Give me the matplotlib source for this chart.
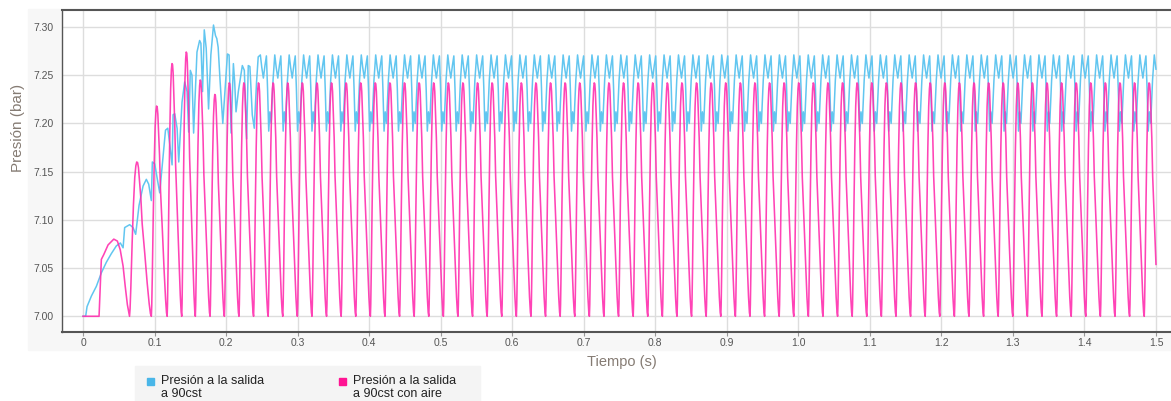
import numpy as np
import matplotlib.pyplot as plt
from matplotlib.patches import Rectangle

plt.rcParams['font.family'] = ['Liberation Sans', 'DejaVu Sans']

# ---- data (time in s, pressure in bar) ----
# "Presión a la salida a 90cst con aire" (pink)
air_start_t = [0.0, 0.0224, 0.0245, 0.0256, 0.029, 0.035, 0.043, 0.048, 0.052, 0.056, 0.059, 0.062]
air_start_p = [7.000, 7.000, 7.040, 7.059, 7.064, 7.074, 7.080, 7.078, 7.069, 7.052, 7.031, 7.012]
air_troughs = [0.065, 0.0955, 0.1176, 0.138, 0.157, 0.1776]
air_peaks = [7.160, 7.218, 7.262, 7.274, 7.245, 7.230]
air_steady_from = 0.1976
air_period = 0.020412
# one steady cycle, trough to trough (phase as fraction of the period)
air_cycle_phase = [0.0, 0.025, 0.06, 0.12, 0.18, 0.24, 0.29, 0.33, 0.37, 0.41, 0.46,
                   0.52, 0.58, 0.70, 0.81, 0.90, 0.96]
air_cycle_p = [7.000, 7.012, 7.045, 7.115, 7.175, 7.218, 7.236, 7.242, 7.241, 7.233, 7.212,
               7.185, 7.145, 7.098, 7.052, 7.020, 7.004]

# "Presión a la salida a 90cst" (blue)
oil_start_t = [0.0, 0.0037, 0.0056, 0.0117, 0.0186, 0.0256, 0.0326, 0.0396, 0.0466, 0.0522,
               0.0560, 0.0582, 0.0652, 0.0699, 0.0736, 0.0783, 0.0839, 0.0885, 0.0918, 0.0955,
               0.0969, 0.1002, 0.1072, 0.112, 0.1153, 0.1185, 0.1213, 0.1245, 0.1259, 0.1282,
               0.1315, 0.1338, 0.1384, 0.1421, 0.1454, 0.1477, 0.1500, 0.1523, 0.1546, 0.1593,
               0.1630, 0.1648, 0.1671, 0.1695, 0.1722, 0.1755, 0.1787, 0.1824, 0.1852, 0.1870,
               0.1889, 0.1917, 0.1954, 0.1986, 0.2019, 0.2042, 0.2070, 0.2102, 0.2120, 0.2139,
               0.2171, 0.2227, 0.2255, 0.2287, 0.2310, 0.2333, 0.2366, 0.2394, 0.2426, 0.2449]
oil_start_p = [7.000, 7.000, 7.010, 7.021, 7.031, 7.045, 7.056, 7.065, 7.073, 7.076,
               7.071, 7.092, 7.095, 7.092, 7.085, 7.115, 7.135, 7.142, 7.137, 7.120,
               7.160, 7.158, 7.128, 7.167, 7.193, 7.195, 7.178, 7.157, 7.209, 7.210,
               7.195, 7.160, 7.222, 7.243, 7.233, 7.191, 7.255, 7.250, 7.190, 7.274,
               7.286, 7.283, 7.233, 7.297, 7.278, 7.215, 7.271, 7.302, 7.291, 7.288,
               7.279, 7.243, 7.200, 7.236, 7.272, 7.271, 7.190, 7.262, 7.243, 7.212,
               7.233, 7.260, 7.255, 7.184, 7.260, 7.259, 7.209, 7.195, 7.243, 7.269]
oil_steady_from = 0.2479
oil_period = 0.020157
oil_cycle_phase = [0.00, 0.10, 0.21, 0.32, 0.42, 0.50, 0.58, 0.66, 0.75, 0.88]
oil_cycle_p = [7.271, 7.258, 7.247, 7.260, 7.270, 7.236, 7.192, 7.212, 7.200, 7.245]

t_end = 1.5
x_ticks = [0, 0.1, 0.2, 0.3, 0.4, 0.5, 0.6, 0.7, 0.8, 0.9, 1.0, 1.1, 1.2, 1.3, 1.4, 1.5]
x_labels = ['0', '0.1', '0.2', '0.3', '0.4', '0.5', '0.6', '0.7', '0.8', '0.9',
            '1.0', '1.1', '1.2', '1.3', '1.4', '1.5']
y_ticks = [7.00, 7.05, 7.10, 7.15, 7.20, 7.25, 7.30]


def build_series(start_t, start_p, cyc_starts, cyc_peaks, phase, shape, base, top):
    t = list(start_t)
    p = list(start_p)
    for i in range(len(cyc_starts) - 1):
        t0, t1 = cyc_starts[i], cyc_starts[i + 1]
        for ph, v in zip(phase, shape):
            t.append(t0 + ph * (t1 - t0))
            p.append(base + (v - base) * (cyc_peaks[i] - base) / (top - base))
    t, p = np.array(t), np.array(p)
    keep = t <= t_end
    return np.append(t[keep], t_end), np.append(p[keep], np.interp(t_end, t, p))


air_steady = list(np.arange(air_steady_from, t_end + 2 * air_period, air_period))
air_t, air_p = build_series(air_start_t, air_start_p,
                            air_troughs + air_steady,
                            air_peaks + [7.242] * len(air_steady),
                            air_cycle_phase, air_cycle_p, 7.0, 7.242)

oil_steady = list(np.arange(oil_steady_from, t_end + 2 * oil_period, oil_period))
oil_t, oil_p = build_series(oil_start_t, oil_start_p, oil_steady, [7.271] * len(oil_steady),
                            oil_cycle_phase, oil_cycle_p, 7.0, 7.271)

W, H = 1171, 401
fig = plt.figure(figsize=(W / 100, H / 100), dpi=100)


def px(x, y):
    return x / W, 1 - y / H


# light panel behind the chart and the legend
fig.patches.append(Rectangle(px(28, 350), (W - 28) / W, (350 - 9) / H,
                             transform=fig.transFigure, color='#f7f7f7', zorder=-2))
fig.patches.append(Rectangle(px(135, 401), (480 - 135) / W, 35 / H,
                             transform=fig.transFigure, color='#f4f4f4', zorder=-2))

ax = fig.add_axes([62 / W, 1 - 332 / H, (W - 62) / W, (332 - 10) / H])
ax.set_zorder(1)
ax.set_facecolor('white')

ax.plot(oil_t, oil_p, color='#62c6f0', lw=1.1, zorder=3)
ax.plot(air_t, air_p, color='#ff2fae', lw=1.15, alpha=0.9, zorder=4)

ax.set_xlim(-0.0294, 1.521)
ax.set_ylim(6.9837, 7.3176)
ax.set_xticks(x_ticks)
ax.set_xticklabels(x_labels)
ax.set_yticks(y_ticks)
ax.set_yticklabels(['%.2f' % v for v in y_ticks])
ax.grid(True, color='#dddddd', lw=1.0, zorder=0)
ax.set_axisbelow(True)

ax.spines['right'].set_visible(False)
for s in ['top', 'bottom']:
    ax.spines[s].set_color('#555555')
    ax.spines[s].set_linewidth(1.5)
ax.spines['left'].set_color('#555555')
ax.spines['left'].set_linewidth(1.0)
ax.tick_params(axis='x', length=3, color='#999999', labelsize=7.5, labelcolor='#555555', pad=1.5)
ax.tick_params(axis='y', length=0, labelsize=7.5, labelcolor='#555555', pad=6)

fig.text(*px(18, 128), 'Presión (bar)', rotation=90, ha='center', va='center',
         fontsize=11, color='#857b73')
fig.text(*px(622, 362), 'Tiempo (s)', ha='center', va='center', fontsize=10.5, color='#857b73')

# legend
fig.patches.append(Rectangle(px(147, 385), 7 / W, 7 / H, transform=fig.transFigure,
                             color='#49b6e8', zorder=2))
fig.text(*px(161, 381), 'Presión a la salida', ha='left', va='center', fontsize=9, color='#222222')
fig.text(*px(161, 394), 'a 90cst', ha='left', va='center', fontsize=9, color='#222222')
fig.patches.append(Rectangle(px(339, 385), 7 / W, 7 / H, transform=fig.transFigure,
                             color='#ff1493', zorder=2))
fig.text(*px(353, 381), 'Presión a la salida', ha='left', va='center', fontsize=9, color='#222222')
fig.text(*px(353, 394), 'a 90cst con aire', ha='left', va='center', fontsize=9, color='#222222')

fig.savefig('out.png', dpi=100)
